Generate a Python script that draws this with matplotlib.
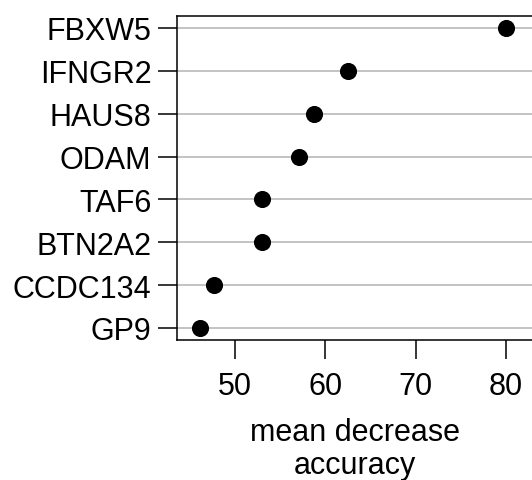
import matplotlib
matplotlib.use('Agg')
import matplotlib.pyplot as plt

# genes in top-to-bottom order
genes = ['FBXW5', 'IFNGR2', 'HAUS8', 'ODAM', 'TAF6', 'BTN2A2', 'CCDC134', 'GP9']
accuracy = [80.0, 62.5, 58.75, 57.1, 53.05, 53.0, 47.7, 46.1]
xticks = [50, 60, 70, 80]

plt.rcParams['font.family'] = ['Liberation Sans', 'DejaVu Sans']

fig = plt.figure(figsize=(5.32, 4.81), dpi=100)
ax = fig.add_axes([177 / 532, 1 - 341 / 481, 1 - 177 / 532, (341 - 17) / 481])

ypos = list(range(len(genes), 0, -1))
for y in ypos:
    ax.axhline(y, color='#bebebe', lw=1.3, zorder=1)
ax.plot(accuracy, ypos, 'o', color='black', ms=11.3, zorder=3)

ax.set_ylim(0.72, 8.28)
ax.set_xlim(43.58, 82.9)
ax.set_yticks(ypos)
ax.set_yticklabels(genes)
ax.set_xticks(xticks)
ax.tick_params(labelsize=22, length=13.5, width=1.1, color='black', pad=5)
ax.tick_params(axis='x', pad=9)

for s in ['left', 'top', 'bottom']:
    ax.spines[s].set_linewidth(1.1)
ax.spines['right'].set_visible(False)

ax.set_xlabel('mean decrease\naccuracy', fontsize=22, labelpad=11, linespacing=1.15)

fig.savefig('out.png', dpi=100)
